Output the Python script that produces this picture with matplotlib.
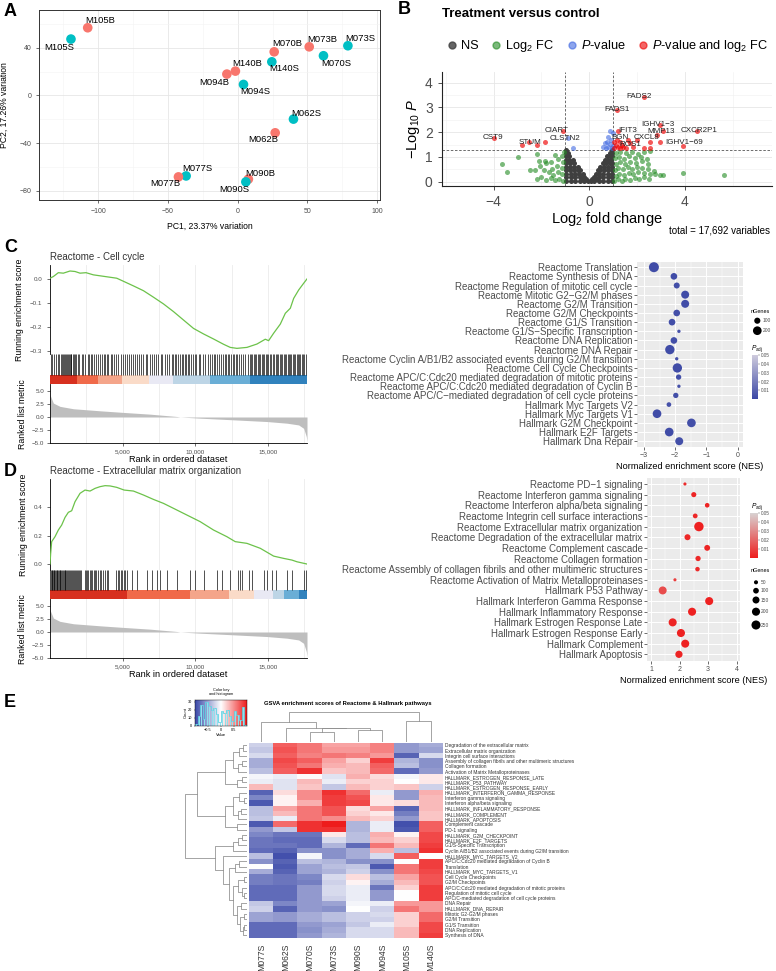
import numpy as np
import matplotlib
matplotlib.use("Agg")
import matplotlib.pyplot as plt
from matplotlib.colors import LinearSegmentedColormap, Normalize
from matplotlib.lines import Line2D
import matplotlib.cm as cm

# ======================= DATA =======================
# --- A: PCA ---
pca_samples = ['M105B', 'M105S', 'M070B', 'M073B', 'M073S', 'M070S', 'M140S', 'M140B',
               'M094B', 'M094S', 'M062S', 'M062B', 'M077S', 'M077B', 'M090B', 'M090S']
pca_pc1 = [-107.4, -119.4, 26.2, 51.3, 79.0, 61.5, 24.5, -1.6, -7.7, 4.2, 40.0, 26.9, -36.9, -42.4, 7.7, 5.9]
pca_pc2 = [56.8, 47.3, 36.6, 40.8, 41.7, 33.3, 28.2, 20.4, 17.9, 9.2, -19.9, -31.4, -67.6, -68.4, -70.3, -72.6]

# --- B: volcano ---
ns_x = [-0.97, -0.78, -0.59, -0.40, -0.21, -0.07, 0.07, 0.21, 0.40, 0.59, 0.78, 0.97,
        -0.97, -0.78, -0.59, -0.40, -0.21, 0.19, 0.40, 0.59, 0.78, 0.97,
        -0.97, -0.78, -0.59, -0.42, -0.27, 0.27, 0.42, 0.59, 0.78, 0.97,
        -0.97, -0.80, -0.63, -0.46, -0.37, 0.36, 0.46, 0.63, 0.80, 0.97,
        -0.97, -0.80, -0.63, -0.48, 0.46, 0.63, 0.80, 0.97,
        -0.97, -0.80, -0.62, 0.57, 0.72, 0.86, 0.97,
        -0.97, -0.84, -0.70, 0.67, 0.80, 0.93,
        -0.97, -0.85, 0.76, 0.88, 0.97,
        -0.97, -0.89, 0.85, 0.95,
        -0.97, 0.94,
        -0.30, -0.12, 0.12, 0.30]
ns_y = [0.04, 0.04, 0.04, 0.04, 0.04, 0.04, 0.04, 0.04, 0.04, 0.04, 0.04, 0.04,
        0.18, 0.18, 0.18, 0.18, 0.18, 0.18, 0.18, 0.18, 0.18, 0.18,
        0.32, 0.32, 0.32, 0.32, 0.32, 0.32, 0.32, 0.32, 0.32, 0.32,
        0.46, 0.46, 0.46, 0.46, 0.46, 0.46, 0.46, 0.46, 0.46, 0.46,
        0.60, 0.60, 0.60, 0.60, 0.60, 0.60, 0.60, 0.60,
        0.74, 0.74, 0.74, 0.74, 0.74, 0.74, 0.74,
        0.88, 0.88, 0.88, 0.88, 0.88, 0.88,
        1.02, 1.02, 1.02, 1.02, 1.02,
        1.16, 1.16, 1.16, 1.16,
        1.28, 1.28,
        0.11, 0.11, 0.11, 0.11]
fc_x = [-1.08, -1.25, -1.42, -1.60, -1.80, -2.00, -2.20, -1.12, -1.30, -1.50, -1.70, -1.90, -2.25, -2.49,
        -1.15, -1.35, -1.55, -1.79, -2.05, -1.10, -1.30, -1.60, -1.85, -2.10, -1.15, -1.45, -1.05, -2.20,
        -3.00, -3.65, -3.44,
        1.05, 1.20, 1.35, 1.50, 1.70, 1.90, 2.10, 2.30, 2.50,
        1.10, 1.25, 1.45, 1.65, 1.85, 2.05, 2.30, 2.55, 2.75, 2.95, 3.10,
        1.08, 1.22, 1.40, 1.60, 1.80, 2.00, 2.20, 2.45, 2.70,
        1.10, 1.30, 1.50, 1.70, 1.95, 2.20, 2.45,
        1.08, 1.25, 1.45, 1.65, 1.90, 2.15, 2.40,
        1.10, 1.30, 1.55, 1.80, 2.05, 2.30, 2.55,
        3.90, 5.65]
fc_y = [0.05, 0.12, 0.06, 0.15, 0.08, 0.20, 0.12, 0.30, 0.38, 0.28, 0.40, 0.47, 0.48, 0.47,
        0.55, 0.62, 0.50, 0.74, 0.62, 0.80, 0.90, 0.78, 0.85, 0.85, 1.05, 1.10, 1.22, 1.14,
        1.00, 0.71, 0.38,
        0.05, 0.10, 0.05, 0.12, 0.08, 0.15, 0.10, 0.18, 0.12,
        0.25, 0.32, 0.28, 0.35, 0.30, 0.38, 0.35, 0.30, 0.30, 0.28, 0.28,
        0.48, 0.55, 0.50, 0.58, 0.52, 0.60, 0.55, 0.50, 0.45,
        0.72, 0.78, 0.70, 0.80, 0.75, 0.82, 0.72,
        0.95, 1.00, 0.92, 1.02, 0.95, 1.00, 0.90,
        1.18, 1.22, 1.15, 1.20, 1.12, 1.20, 1.25,
        0.35, 0.28]
pv_x = [0.87, 0.80, 0.98, 0.66, 0.73, 0.87, 1.00, 0.80, 0.94, 0.59, -0.88, -0.67, 0.90, 0.70]
pv_y = [2.05, 1.82, 1.95, 1.55, 1.62, 1.52, 1.45, 1.41, 1.35, 1.41, 1.78, 1.35, 1.70, 1.35]
both_x = [2.27, 1.15, 2.94, 1.22, 3.08, 2.83, 4.50, 3.94, 2.97, 2.55, 2.31, 2.52, 1.29, 1.70, 1.99, 1.43,
          1.05, 1.10, 1.20, 1.30, 1.15, 1.35, 1.55, 1.60, 1.85, 1.05,
          -4.00, -2.80, -2.52, -2.20, -1.86, -1.09]
both_y = [3.43, 2.90, 2.29, 2.05, 2.05, 1.89, 2.05, 1.45, 1.59, 1.62, 1.35, 1.35, 1.62, 1.55, 1.68, 1.41,
          1.35, 1.50, 1.40, 1.35, 1.70, 1.50, 1.38, 1.70, 1.40, 1.60,
          1.78, 1.50, 1.62, 1.50, 1.62, 2.05]
gene_names = ['CST9', 'STUM', 'CIART', 'CLSTN2', 'FADS2', 'FADS1', 'IGHV1\u22123', 'IFIT3', 'MMP13',
              'CXCR2P1', 'BGN', 'CXCL8', 'ROS1', 'IGHV1\u221269']
gene_lx = [-4.03, -2.48, -1.36, -1.03, 2.08, 1.16, 2.87, 1.60, 3.00, 4.58, 1.28, 2.41, 1.70, 3.96]
gene_ly = [1.78, 1.58, 2.07, 1.76, 3.43, 2.90, 2.33, 2.05, 2.02, 2.05, 1.78, 1.78, 1.50, 1.58]

# --- C/D: GSEA running scores ---
C_rank = [0, 230, 574, 919, 1378, 1723, 2068, 2481, 2987, 3446, 4136, 4595, 5100, 5744, 6433, 7122, 7812,
          8501, 9190, 9880, 10569, 11258, 11948, 12408, 12867, 13557, 14246, 14821, 15050, 15395, 15855,
          16200, 16544, 16774, 17119, 17463, 17692]
C_es = [0.003, 0.010, 0.026, 0.024, 0.033, 0.031, 0.024, 0.026, 0.017, 0.013, 0.007, 0.003, -0.011,
        -0.029, -0.049, -0.076, -0.104, -0.136, -0.171, -0.206, -0.229, -0.250, -0.272, -0.285, -0.289,
        -0.285, -0.271, -0.251, -0.257, -0.226, -0.188, -0.143, -0.122, -0.081, -0.046, -0.018, 0.000]
C_hits = [40, 130, 260, 410, 530, 640, 760, 830, 900, 960, 1020, 1090, 1160, 1230, 1290, 1350, 1420, 1480,
          1560, 1640, 1720, 1790, 1900, 2010, 2180, 2300, 2440, 2620, 2700, 2790, 2880, 3020, 3140, 3300,
          3450, 3560, 3690, 3760, 3900, 4020, 4180, 4290, 4380, 4510, 4700, 4890, 5020, 5160, 5310, 5440,
          5590, 5700, 5840, 5990, 6120, 6290, 6420, 6580, 6700, 6880, 7020, 7190, 7330, 7460, 7620, 7740,
          7900, 8080, 8200, 8390, 8500, 8610, 8700, 8820, 8960, 9060, 9150, 9260, 9380, 9470, 9590, 9700,
          9830, 9950, 10080, 10230, 10360, 10520, 10700, 10880, 11000, 11120, 11270, 11390, 11520, 11640,
          11780, 11900, 12030, 12120, 12230, 12340, 12450, 12580, 12690, 12800, 12900, 13020, 13150, 13300,
          13450, 13620, 13780, 13850, 13940, 14030, 14110, 14200, 14300, 14390, 14480, 14570, 14660, 14750,
          14840, 14920, 15010, 15120, 15230, 15330, 15440, 15550, 15640, 15730, 15810, 15900, 15990, 16080,
          16170, 16260, 16350, 16440, 16530, 16620, 16700, 16790, 16880, 16970, 17060, 17150, 17240, 17330,
          17420, 17510, 17600, 17680]
C_band_edges = [0, 1838, 3286, 4986, 6824, 8456, 11029, 13786, 17692]

D_rank = [0, 46, 115, 345, 574, 804, 1034, 1264, 1493, 1723, 2068, 2412, 2757, 3102, 3446, 3791, 4136,
          4595, 5101, 5744, 6433, 7122, 7812, 8501, 9420, 10339, 11258, 12177, 12752, 13557, 14476, 15395,
          16083, 16658, 17003, 17692]
D_es = [0.0, 0.075, 0.158, 0.193, 0.240, 0.275, 0.329, 0.365, 0.376, 0.440, 0.499, 0.522, 0.515, 0.534,
        0.546, 0.553, 0.551, 0.541, 0.522, 0.515, 0.487, 0.456, 0.428, 0.393, 0.346, 0.299, 0.240, 0.193,
        0.158, 0.146, 0.111, 0.056, 0.040, 0.028, 0.016, 0.0]
D_hits = [15, 60, 110, 160, 200, 250, 300, 350, 400, 450, 500, 560, 610, 660, 720, 770, 830, 880, 940,
          1000, 1060, 1120, 1180, 1240, 1300, 1370, 1430, 1490, 1560, 1620, 1690, 1760, 1830, 1900, 1980,
          2060, 2150, 2380, 2460, 2550, 2640, 2730, 2820, 2910, 3000, 3100, 3200, 3300, 3420, 3540, 3660,
          3780, 3900, 4000, 4550, 4650, 4760, 4880, 4980, 5080, 5180, 5270, 5629, 5974, 6663, 7008, 7352,
          7582, 8042, 8731, 9650, 9995, 10569, 11488, 11833, 12407, 12913, 13050, 13211, 13671, 13901,
          14705, 14935, 15280, 15578, 16313, 16658, 17462, 17646]
D_band_edges = [0, 5285, 9650, 12292, 14015, 15348, 16083, 17117, 17692]

metric_rank = [0, 230, 689, 1608, 3446, 5101, 6893, 8731, 8961, 10339, 12637, 14935, 16313, 17117, 17462,
               17646, 17692]
metric_val = [4.3, 2.7, 2.06, 1.6, 1.2, 0.88, 0.55, 0.1, 0.0, -0.23, -0.55, -0.88, -1.2, -1.54, -2.2,
              -3.8, -4.8]

# --- C/D: dot plots ---
C_terms = ['Reactome Translation', 'Reactome Synthesis of DNA', 'Reactome Regulation of mitotic cell cycle',
           'Reactome Mitotic G2\u2212G2/M phases', 'Reactome G2/M Transition', 'Reactome G2/M Checkpoints',
           'Reactome G1/S Transition', 'Reactome G1/S\u2212Specific Transcription', 'Reactome DNA Replication',
           'Reactome DNA Repair', 'Reactome Cyclin A/B1/B2 associated events during G2/M transition',
           'Reactome Cell Cycle Checkpoints', 'Reactome APC/C:Cdc20 mediated degradation of mitotic proteins',
           'Reactome APC/C:Cdc20 mediated degradation of Cyclin B',
           'Reactome APC/C\u2212mediated degradation of cell cycle proteins', 'Hallmark Myc Targets V2',
           'Hallmark Myc Targets V1', 'Hallmark G2M Checkpoint', 'Hallmark E2F Targets', 'Hallmark Dna Repair']
C_nes = [-2.68, -2.04, -1.95, -1.68, -1.68, -1.95, -2.10, -1.88, -2.04, -2.17, -1.95, -1.93, -1.89, -1.88,
         -1.98, -2.20, -2.58, -1.48, -2.19, -1.87]
C_ngenes = [266, 118, 96, 170, 170, 118, 118, 30, 118, 232, 30, 232, 76, 30, 76, 58, 200, 200, 200, 170]
C_padj = [0.002, 0.002, 0.003, 0.002, 0.002, 0.003, 0.003, 0.004, 0.003, 0.002, 0.004, 0.002, 0.003,
          0.004, 0.003, 0.004, 0.002, 0.003, 0.002, 0.003]

D_terms = ['Reactome PD\u22121 signaling', 'Reactome Interferon gamma signaling',
           'Reactome Interferon alpha/beta signaling', 'Reactome Integrin cell surface interactions',
           'Reactome Extracellular matrix organization', 'Reactome Degradation of the extracellular matrix',
           'Reactome Complement cascade', 'Reactome Collagen formation',
           'Reactome Assembly of collagen fibrils and other multimeric structures',
           'Reactome Activation of Matrix Metalloproteinases', 'Hallmark P53 Pathway',
           'Hallmark Interferon Gamma Response', 'Hallmark Inflammatory Response',
           'Hallmark Estrogen Response Late', 'Hallmark Estrogen Response Early', 'Hallmark Complement',
           'Hallmark Apoptosis']
D_nes = [2.19, 2.50, 2.97, 2.55, 2.68, 2.28, 2.97, 2.65, 2.63, 1.84, 1.41, 3.04, 2.44, 1.76, 2.05, 2.20, 1.98]
D_ngenes = [30, 80, 65, 70, 270, 110, 105, 85, 62, 30, 195, 198, 199, 199, 199, 197, 160]
D_padj = [0.004, 0.002, 0.002, 0.003, 0.001, 0.003, 0.002, 0.003, 0.004, 0.009, 0.013, 0.001, 0.001,
          0.002, 0.001, 0.001, 0.002]

# --- E: GSVA heatmap ---
hm_cols = ['M077S', 'M062S', 'M070S', 'M073S', 'M090S', 'M094S', 'M105S', 'M140S']
hm_rows = ['Degradation of the extracellular matrix', 'Extracellular matrix organization',
           'Integrin cell surface interactions', 'Assembly of collagen fibrils and other multimeric structures',
           'Collagen formation', 'Activation of Matrix Metalloproteinases', 'HALLMARK_ESTROGEN_RESPONSE_LATE',
           'HALLMARK_P53_PATHWAY', 'HALLMARK_ESTROGEN_RESPONSE_EARLY', 'HALLMARK_INTERFERON_GAMMA_RESPONSE',
           'Interferon gamma signaling', 'Interferon alpha/beta signaling', 'HALLMARK_INFLAMMATORY_RESPONSE',
           'HALLMARK_COMPLEMENT', 'HALLMARK_APOPTOSIS', 'Complement cascade', 'PD-1 signaling',
           'HALLMARK_G2M_CHECKPOINT', 'HALLMARK_E2F_TARGETS', 'G1/S-Specific Transcription',
           'Cyclin A/B1/B2 associated events during G2/M transition', 'HALLMARK_MYC_TARGETS_V2',
           'APC/C:Cdc20 mediated degradation of Cyclin B', 'Translation', 'HALLMARK_MYC_TARGETS_V1',
           'Cell Cycle Checkpoints', 'G2/M Checkpoints', 'APC/C:Cdc20 mediated degradation of mitotic proteins',
           'Regulation of mitotic cell cycle', 'APC/C-mediated degradation of cell cycle proteins', 'DNA Repair',
           'HALLMARK_DNA_REPAIR', 'Mitotic G2-G2/M phases', 'G2/M Transition', 'G1/S Transition',
           'DNA Replication', 'Synthesis of DNA']
hm_values = [
    [-0.25, 0.70, 0.60, 0.40, 0.40, 0.55, -0.55, -0.45],
    [-0.30, 0.75, 0.60, 0.45, 0.45, 0.55, -0.55, -0.50],
    [-0.20, 0.70, 0.55, 0.60, 0.55, 0.45, -0.85, -0.20],
    [-0.45, 0.80, 0.70, 0.40, 0.20, 0.85, -0.40, -0.60],
    [-0.45, 0.75, 0.60, 0.35, 0.30, 0.70, -0.35, -0.60],
    [-0.35, 0.70, 0.90, 0.25, 0.30, 0.65, -0.80, -0.55],
    [-0.05, -0.10, 0.02, -0.15, 0.35, 0.15, -0.05, 0.10],
    [-0.10, -0.15, 0.30, -0.10, 0.20, 0.20, 0.00, 0.10],
    [0.30, -0.15, 0.25, -0.30, 0.30, 0.20, 0.25, -0.25],
    [-0.85, 0.15, 0.50, 0.90, 0.65, -0.10, -0.55, 0.35],
    [-0.65, 0.05, 0.50, 0.85, 0.75, 0.10, -0.55, 0.30],
    [-0.90, 0.05, 0.35, 0.85, 0.80, 0.10, 0.15, 0.30],
    [-0.35, 0.40, 0.60, 0.75, 0.15, 0.40, -0.85, 0.30],
    [-0.35, 0.30, 0.60, 0.75, 0.20, 0.10, -0.70, 0.25],
    [-0.30, -0.10, 0.60, 0.50, 0.30, 0.20, -0.55, 0.25],
    [-0.90, 0.65, 0.90, 1.00, -0.40, -0.10, -0.95, 0.70],
    [-0.55, -0.30, 0.90, 0.90, -0.40, -0.10, -0.90, 0.70],
    [-0.65, -0.75, -0.75, 0.10, -0.35, 0.35, 0.05, 0.80],
    [-0.75, -0.80, -0.80, -0.20, -0.35, 0.30, 0.20, 0.80],
    [-0.75, -0.75, -0.80, -0.40, -0.80, 0.60, 0.30, 0.85],
    [-0.80, -0.85, -0.60, -0.60, -0.45, 0.35, -0.35, 0.90],
    [-0.35, -0.95, -0.05, -0.60, -0.45, -0.20, 0.70, 0.00],
    [-0.60, -0.85, -0.35, -0.40, -0.60, -0.60, 0.00, 0.85],
    [0.00, -0.90, -0.50, -0.35, -0.30, -0.90, 0.60, 0.85],
    [-0.45, -0.85, -0.50, -0.40, -0.25, -0.60, 0.60, 0.80],
    [-0.70, -0.75, -0.65, -0.20, 0.15, -0.35, 0.40, 0.75],
    [-0.70, -0.75, -0.70, -0.25, 0.05, -0.45, 0.30, 0.75],
    [-0.80, -0.80, -0.55, -0.20, -0.10, -0.75, 0.20, 0.85],
    [-0.80, -0.80, -0.55, -0.20, -0.10, -0.55, 0.00, 0.85],
    [-0.80, -0.80, -0.55, -0.25, -0.10, -0.55, 0.00, 0.85],
    [-0.30, -0.65, -0.55, -0.50, -0.05, -0.10, 0.45, 0.45],
    [-0.25, -0.85, -0.55, -0.60, 0.00, -0.25, 0.60, 0.45],
    [-0.50, -0.55, -0.45, -0.35, -0.25, -0.20, 0.20, 0.65],
    [-0.50, -0.55, -0.45, -0.35, -0.25, -0.25, 0.20, 0.65],
    [-0.80, -0.80, -0.55, -0.50, -0.30, -0.10, 0.20, 0.80],
    [-0.80, -0.80, -0.60, -0.45, -0.20, -0.20, 0.30, 0.80],
    [-0.80, -0.80, -0.55, -0.40, -0.20, -0.20, 0.30, 0.85],
]
# dendrogram merges: (left, right, height); leaves numbered in display order
col_merges = [(2, 3, 30), (4, 5, 35), (8, 9, 40), (1, 10, 42), (0, 11, 58), (6, 7, 62), (12, 13, 87)]
row_merges = [(0, 1, 4), (37, 2, 8), (3, 4, 5), (39, 5, 9), (38, 40, 14), (6, 7, 5), (42, 8, 10),
              (41, 43, 22), (10, 11, 3), (9, 45, 8), (12, 13, 6), (47, 14, 9), (46, 48, 14), (15, 16, 10),
              (49, 50, 22), (44, 51, 51),
              (17, 18, 5), (53, 19, 9), (54, 20, 14), (22, 23, 8), (56, 24, 12), (25, 26, 3), (28, 29, 3),
              (27, 59, 5), (58, 60, 9), (30, 31, 6), (32, 33, 3), (34, 35, 3), (64, 36, 4), (63, 65, 7),
              (62, 66, 10), (61, 67, 14), (57, 68, 18), (21, 69, 24), (55, 70, 33), (52, 71, 63)]

# ======================= STYLE =======================
plt.rcParams['font.family'] = ['Liberation Sans', 'DejaVu Sans']
plt.rcParams['mathtext.fontset'] = 'custom'
plt.rcParams['mathtext.rm'] = 'Liberation Sans'
plt.rcParams['mathtext.it'] = 'Liberation Sans:italic'
plt.rcParams['mathtext.bf'] = 'Liberation Sans:bold'
plt.rcParams['axes.unicode_minus'] = True

W, H = 776, 971
fig = plt.figure(figsize=(W / 100, H / 100), dpi=100)
PT = 0.72
GRAYTXT = '#4D4D4D'


def rect(l, t, r, b):
    return [l / W, 1 - b / H, (r - l) / W, (b - t) / H]


def ftext(x, y, s, **kw):
    fig.text(x / W, 1 - y / H, s, **kw)


for lab, (x, y) in zip('ABCDE', [(4, 12), (398, 10), (4, 247), (4, 471), (4, 702)]):
    ftext(x, y, lab, fontsize=13, fontweight='bold', va='center', ha='left')

# ======================= A =======================
label_off_A = {'M105B': (12, -7), 'M105S': (-12, 8), 'M070B': (13, -8), 'M073B': (13, -7),
               'M073S': (12, -7), 'M070S': (13, 8), 'M140S': (12, 7), 'M140B': (12, -8),
               'M094B': (-13, 8), 'M094S': (12, 7), 'M062S': (13, -6), 'M062B': (-12, 7),
               'M077S': (11, -7), 'M077B': (-13, 7), 'M090B': (12, -6), 'M090S': (-12, 8)}
axA = fig.add_axes(rect(39, 10, 380, 200))
colsA = ['#F8766D' if s.endswith('B') else '#00BFC4' for s in pca_samples]
axA.scatter(pca_pc1, pca_pc2, s=48, c=colsA, zorder=3, linewidths=0)
for name, x, y in zip(pca_samples, pca_pc1, pca_pc2):
    dx, dy = label_off_A[name]
    axA.annotate(name, (x, y), xytext=(dx * PT, -dy * PT), textcoords='offset points',
                 ha='center', va='center', fontsize=6.8, zorder=4)
axA.set_xlim(-142.3, 102)
axA.set_ylim(-87.8, 71.7)
axA.set_xticks([-100, -50, 0, 50, 100])
axA.set_yticks([-80, -40, 0, 40])
axA.set_xticks([-125, -75, -25, 25, 75], minor=True)
axA.set_yticks([-60, -20, 20, 60], minor=True)
axA.grid(which='major', color='#E6E6E6', lw=0.6)
axA.grid(which='minor', color='#F3F3F3', lw=0.4)
axA.set_axisbelow(True)
axA.tick_params(which='major', labelsize=5, labelcolor=GRAYTXT, color='#333333', length=2, width=0.5)
axA.tick_params(which='minor', length=0)
for sp in axA.spines.values():
    sp.set_color('#333333')
    sp.set_linewidth(0.7)
axA.set_xlabel('PC1, 23.37% variation', fontsize=6.2, labelpad=5)
axA.set_ylabel('PC2, 17.26% variation', fontsize=6.2, labelpad=8)

# ======================= B =======================
ftext(441.7, 14, 'Treatment versus control', fontsize=9.5, fontweight='bold', va='center', ha='left')
axB = fig.add_axes(rect(441.7, 71.7, 771.7, 186))
ms = 13
axB.scatter(ns_x, ns_y, s=ms, c='#3F3F3F', linewidths=0, zorder=3)
axB.scatter(fc_x, fc_y, s=ms, c='#228B22', alpha=0.6, linewidths=0, zorder=3)
axB.scatter(pv_x, pv_y, s=ms, c='#4169E1', alpha=0.6, linewidths=0, zorder=3)
axB.scatter(both_x, both_y, s=ms, c='#EE0000', alpha=0.65, linewidths=0, zorder=4)
for g, x, y in zip(gene_names, gene_lx, gene_ly):
    axB.text(x, y, g, fontsize=5.8, ha='center', va='center', zorder=5, color='#222222')
axB.axvline(-1, color='#555555', lw=0.6, ls=(0, (3, 2)), zorder=2)
axB.axvline(1, color='#555555', lw=0.6, ls=(0, (3, 2)), zorder=2)
axB.axhline(1.30103, color='#555555', lw=0.6, ls=(0, (3, 2)), zorder=2)
axB.set_xlim(-6.17, 7.63)
axB.set_ylim(-0.17, 4.44)
axB.set_xticks([-4, 0, 4])
axB.set_yticks([0, 1, 2, 3, 4])
axB.set_xticks([-6, -2, 2, 6], minor=True)
axB.set_yticks([0.5, 1.5, 2.5, 3.5], minor=True)
axB.grid(which='major', color='#E6E6E6', lw=0.6)
axB.grid(which='minor', color='#F0F0F0', lw=0.4)
axB.set_axisbelow(True)
axB.spines['top'].set_visible(False)
axB.spines['right'].set_visible(False)
for sp in ('left', 'bottom'):
    axB.spines[sp].set_color('#222222')
    axB.spines[sp].set_linewidth(0.8)
axB.tick_params(which='major', labelsize=10, labelcolor=GRAYTXT, color='#333333', length=3, width=0.6)
axB.tick_params(which='minor', length=0)
axB.set_xlabel('Log$_2$ fold change', fontsize=10.5, labelpad=1)
axB.set_ylabel('$-$Log$_{10}$ $\\it{P}$', fontsize=10.5, labelpad=2)
ftext(770, 230.5, 'total = 17,692 variables', fontsize=7, ha='right', va='center')
leg_handles = [Line2D([], [], ls='', marker='o', ms=5, color=c, alpha=a)
               for c, a in [('#3F3F3F', 0.8), ('#228B22', 0.6), ('#4169E1', 0.6), ('#EE0000', 0.6)]]
leg_labels = ['NS', 'Log$_2$ FC', '$\\it{P}$-value', '$\\it{P}$-value and log$_2$ FC']
fig.legend(leg_handles, leg_labels, loc='center', bbox_to_anchor=(606 / W, 1 - 46 / H), ncol=4,
           frameon=False, fontsize=9.2, handletextpad=0.05, columnspacing=0.75, handlelength=1.3,
           borderpad=0, borderaxespad=0)

# ======================= GSEA =======================
band_colors = ['#D7301F', '#F06A4A', '#F4A58A', '#FADBC8', '#E9E9F4', '#BDD5E6', '#6AAED6', '#3182BD']
NMAX = 17692


def gsea(top, title, rank, es, hits, edges, es_ticks, es_lim):
    t0, t1, t2, t3 = top
    ftext(50, t0 - 8, title, fontsize=7, ha='left', va='center', color='#333333')
    ax1 = fig.add_axes(rect(50, t0, 307, t1))
    ax1.plot(rank, es, color='#6CC24A', lw=0.9, zorder=3)
    ax1.set_xlim(0, NMAX)
    ax1.set_ylim(*es_lim)
    ax1.set_yticks(es_ticks)
    ax1.set_yticklabels([f'{v:.1f}'.replace('-', '\u2212') for v in es_ticks])
    ax1.set_xticks([5000, 10000, 15000])
    ax1.set_xticks([2500, 7500, 12500, 17500], minor=True)
    ax1.grid(axis='x', which='both', color='#EBEBEB', lw=0.6)
    ax1.tick_params(axis='x', which='both', length=0, labelbottom=False)
    ax1.tick_params(axis='y', labelsize=4.5, labelcolor=GRAYTXT, length=2, width=0.4)
    for sp in ('top', 'right', 'bottom'):
        ax1.spines[sp].set_visible(False)
    ax1.spines['left'].set_linewidth(0.6)
    ax1.set_ylabel('Running enrichment score', fontsize=6.3)

    ax2 = fig.add_axes(rect(50, t1, 307, t2))
    ax2.vlines(hits, 0.3, 1.0, color='black', lw=0.6, alpha=0.8)
    ax2.barh(0.15, np.diff(edges), left=edges[:-1], height=0.3, color=band_colors, linewidth=0)
    ax2.set_xlim(0, NMAX)
    ax2.set_ylim(0, 1)
    ax2.axis('off')

    ax3 = fig.add_axes(rect(50, t2, 307, t3))
    ax3.fill_between(metric_rank, metric_val, 0, color='#BEBEBE', lw=0)
    ax3.set_xlim(0, NMAX)
    ax3.set_ylim(-5.1, 6.4)
    ax3.set_yticks([5, 2.5, 0, -2.5, -5])
    ax3.set_yticklabels(['5.0', '2.5', '0.0', '\u22122.5', '\u22125.0'])
    ax3.set_xticks([5000, 10000, 15000])
    ax3.set_xticklabels(['5,000', '10,000', '15,000'])
    ax3.set_xticks([2500, 7500, 12500, 17500], minor=True)
    ax3.grid(axis='x', which='both', color='#EBEBEB', lw=0.6)
    ax3.set_axisbelow(True)
    ax3.tick_params(labelsize=4.5, labelcolor=GRAYTXT, length=2, width=0.4, pad=2)
    ax3.tick_params(which='minor', length=0)
    for sp in ('top', 'right'):
        ax3.spines[sp].set_visible(False)
    for sp in ('left', 'bottom'):
        ax3.spines[sp].set_linewidth(0.6)
    ax3.set_ylabel('Ranked list metric', fontsize=6.3)
    ax3.set_xlabel('Rank in ordered dataset', fontsize=6.6, labelpad=1)
    fig.align_ylabels([ax1, ax3])


gsea((265, 354, 384, 443.3), 'Reactome - Cell cycle', C_rank, C_es, C_hits, C_band_edges,
     [0.0, -0.1, -0.2, -0.3], (-0.3125, 0.058))
gsea((479, 570, 599, 658.3), 'Reactome - Extracellular matrix organization', D_rank, D_es, D_hits,
     D_band_edges, [0.0, 0.2, 0.4], (-0.042, 0.60))

# ======================= dot plots =======================
cmap_C = LinearSegmentedColormap.from_list('c', ['#3A47A5', '#CFCBDD'])
cmap_D = LinearSegmentedColormap.from_list('d', ['#EE1D1D', '#D8D2D2'])
pnorm = Normalize(0, 0.05)


def dotplot(box, terms, nes, ngenes, padj, cmap, k, xlim, xticks, minor):
    ax = fig.add_axes(rect(*box))
    ypos = np.arange(len(terms))
    ax.set_facecolor('#EBEBEB')
    ax.scatter(nes, ypos, s=np.array(ngenes) * k, c=padj, cmap=cmap, norm=pnorm, linewidths=0, zorder=3)
    ax.set_yticks(ypos)
    ax.set_yticklabels(terms)
    ax.set_ylim(len(terms) - 0.4, -0.6)
    ax.set_xlim(*xlim)
    ax.set_xticks(xticks)
    ax.set_xticklabels([str(v).replace('-', '\u2212') for v in xticks])
    ax.set_xticks(minor, minor=True)
    ax.grid(which='major', color='white', lw=0.7)
    ax.grid(which='minor', axis='x', color='white', lw=0.35)
    ax.set_axisbelow(True)
    for sp in ax.spines.values():
        sp.set_visible(False)
    ax.tick_params(axis='y', labelsize=7, labelcolor=GRAYTXT, length=2, width=0.5, pad=1, color='#333333')
    ax.tick_params(axis='x', labelsize=5, labelcolor=GRAYTXT, length=2, width=0.5, color='#333333', pad=2)
    ax.tick_params(which='minor', length=0)
    ax.set_xlabel('Normalized enrichment score (NES)', fontsize=6.6, labelpad=2)
    return ax


kC, kD = 0.195, 0.17
dotplot((636.7, 261.7, 742.7, 446.7), C_terms, C_nes, C_ngenes, C_padj, cmap_C, kC,
        (-3.23, 0.16), [-3, -2, -1, 0], [-2.5, -1.5, -0.5])
dotplot((646.7, 477.6, 740, 660.7), D_terms, D_nes, D_ngenes, D_padj, cmap_D, kD,
        (0.85, 4.12), [1, 2, 3, 4], [1.5, 2.5, 3.5])


def size_legend(x, ys, vals, k, title_y):
    ftext(751, title_y, 'nGenes', fontsize=4, ha='left', va='center')
    lax = fig.add_axes(rect(745, title_y + 3, 775, ys[-1] + 6))
    lax.set_xlim(745, 775)
    lax.set_ylim(ys[-1] + 6, title_y + 3)
    lax.axis('off')
    lax.scatter([x] * len(ys), ys, s=np.array(vals) * k, c='black', linewidths=0)
    for y, v in zip(ys, vals):
        lax.text(x + 5, y, str(v), fontsize=3.5, va='center', ha='left', color=GRAYTXT)


def color_legend(box, cmap, title_y):
    ftext(751, title_y, '$P_{\\mathrm{adj}}$', fontsize=4.8, ha='left', va='center')
    cax = fig.add_axes(rect(*box))
    cb = fig.colorbar(cm.ScalarMappable(norm=pnorm, cmap=cmap), cax=cax)
    cb.outline.set_visible(False)
    cb.set_ticks([0.01, 0.02, 0.03, 0.04, 0.05])
    cb.set_ticklabels(['0.01', '0.02', '0.03', '0.04', '0.05'])
    cax.tick_params(labelsize=3.3, length=1.2, width=0.3, colors=GRAYTXT, pad=1)


size_legend(757.3, [320.7, 330.7], [100, 200], kC, 311)
color_legend((751.7, 355, 758.3, 399.3), cmap_C, 349)
color_legend((750, 513, 757.5, 558), cmap_D, 507)
size_legend(756, [582.3, 590.7, 600, 611.7, 625], [50, 100, 150, 200, 250], kD, 571)

# ======================= E: heatmap =======================
hm = np.array(hm_values)
cmap_E = LinearSegmentedColormap.from_list('e', ['#3A48A8', '#FFFFFF', '#EE1C1C'])
norm_E = Normalize(-1, 1)
nr, nc = hm.shape
axH = fig.add_axes(rect(249.3, 742.7, 442.7, 937.7))
axH.imshow(hm, cmap=cmap_E, norm=norm_E, aspect='auto', interpolation='nearest',
           extent=(-0.5, nc - 0.5, nr - 0.5, -0.5))
axH.set_xticks(np.arange(nc))
axH.set_xticklabels(hm_cols, rotation=90, fontsize=6.2, color='#333333')
axH.set_yticks(np.arange(nr))
axH.set_yticklabels(hm_rows, fontsize=3.5, color='#333333')
axH.yaxis.tick_right()
axH.tick_params(length=0, pad=1.5)
axH.tick_params(axis='x', pad=4)
for sp in axH.spines.values():
    sp.set_visible(False)


def draw_dendro(ax, merges, n, orient):
    pos = {i: float(i) for i in range(n)}
    hgt = {i: 0.0 for i in range(n)}
    for kk, (a, b, h) in enumerate(merges):
        xa, xb, ha, hb = pos[a], pos[b], hgt[a], hgt[b]
        if orient == 'top':
            ax.plot([xa, xa, xb, xb], [ha, h, h, hb], color='#8C8C8C', lw=0.55)
        else:
            ax.plot([ha, h, h, hb], [xa, xa, xb, xb], color='#8C8C8C', lw=0.55)
        pos[n + kk] = (xa + xb) / 2
        hgt[n + kk] = h


axCD = fig.add_axes(rect(249.3, 711.5, 442.7, 742.2))
draw_dendro(axCD, col_merges, nc, 'top')
axCD.set_xlim(-0.5, nc - 0.5)
axCD.set_ylim(0, 88)
axCD.axis('off')

axRD = fig.add_axes(rect(180, 742.7, 247.5, 937.7))
draw_dendro(axRD, row_merges, nr, 'left')
axRD.set_ylim(nr - 0.5, -0.5)
axRD.set_xlim(67.5, 0)
axRD.axis('off')

ftext(348, 704, 'GSVA enrichment scores of Reactome & Hallmark pathways', fontsize=4.2,
      fontweight='bold', ha='center', va='center')

# color key with histogram
axK = fig.add_axes(rect(195, 700, 246.7, 725.7))
counts, edges = np.histogram(hm.ravel(), bins=np.linspace(-1, 1, 21))
ymax = counts.max() * 1.1
axK.imshow(np.linspace(-1, 1, 256)[None, :], cmap=cmap_E, norm=norm_E, aspect='auto',
           extent=(-1, 1, 0, ymax))
axK.stairs(counts, edges, color='#5FD3E3', lw=0.6)
axK.vlines(edges[:-1] + 0.05, 0, counts, color='#8FE0EC', lw=0.8)
axK.set_xlim(-1, 1)
axK.set_ylim(0, ymax)
axK.set_xticks([-0.5, 0, 0.5])
axK.set_xticklabels(['\u22120.5', '0', '0.5'])
axK.tick_params(labelsize=2.8, length=1, width=0.3, pad=0.8)
axK.set_yticks([0, 10, 20, 30])
axK.set_xlabel('Value', fontsize=3, labelpad=0.5)
axK.set_ylabel('Count', fontsize=3, labelpad=0.5)
for sp in axK.spines.values():
    sp.set_linewidth(0.3)
ftext(221, 692, 'Color key\nand histogram', fontsize=2.8, ha='center', va='center', linespacing=1.0)

fig.savefig('out.png', dpi=100)
